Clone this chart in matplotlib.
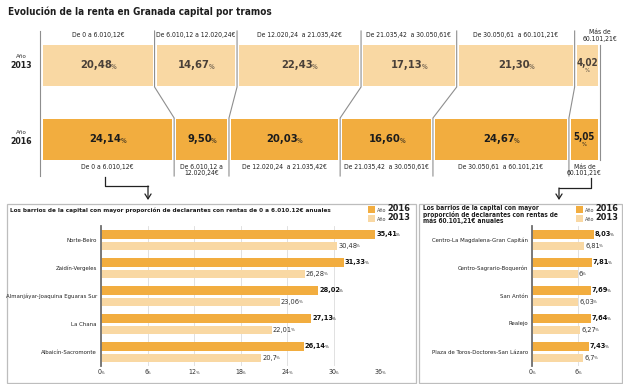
import numpy as np
import matplotlib
matplotlib.use('Agg')
import matplotlib.pyplot as plt
from matplotlib import font_manager
from matplotlib.patches import Rectangle

W, H = 623, 384

# Datos: tramos de renta (grafico superior)
tramos_arriba = ['De 0 a 6.010,12€', 'De 6.010,12 a 12.020,24€', 'De 12.020,24  a 21.035,42€',
                 'De 21.035,42  a 30.050,61€', 'De 30.050,61  a 60.101,21€', 'Más de\n60.101,21€']
tramos_abajo = ['De 0 a 6.010,12€', 'De 6.010,12 a\n12.020,24€', 'De 12.020,24  a 21.035,42€',
                'De 21.035,42  a 30.050,61€', 'De 30.050,61  a 60.101,21€', 'Más de\n60.101,21€']
renta_2013 = [20.48, 14.67, 22.43, 17.13, 21.30, 4.02]
renta_2016 = [24.14, 9.50, 20.03, 16.60, 24.67, 5.05]

# Barrios con rentas bajas
barrios_bajos = ['Norte-Beiro', 'Zaidín-Vergeles', 'Almanjáyar-Joaquina Eguaras Sur',
                 'La Chana', 'Albaicín-Sacromonte']
bajos_2016 = [35.41, 31.33, 28.02, 27.13, 26.14]
bajos_2013 = [30.48, 26.28, 23.06, 22.01, 20.7]
ticks_bajos = [0, 6, 12, 18, 24, 30, 36]

# Barrios con rentas altas
barrios_altos = ['Centro-La Magdalena-Gran Capitán', 'Centro-Sagrario-Boquerón', 'San Antón',
                 'Realejo', 'Plaza de Toros-Doctores-San Lázaro']
altos_2016 = [8.03, 7.81, 7.69, 7.64, 7.43]
altos_2013 = [6.81, 6, 6.03, 6.27, 6.7]
ticks_altos = [0, 6]

C13 = '#F9D8A3'
C16 = '#F2AD3F'
LINE = '#8e8e8e'

# fuente estrecha si existe
fonts = font_manager.fontManager.ttflist
names = {f.name for f in fonts}
if 'Liberation Sans Narrow' in names:
    FONT = dict(family='Liberation Sans Narrow')
elif any(f.name == 'DejaVu Sans' and f.stretch == 'condensed' for f in fonts):
    FONT = dict(family='DejaVu Sans', fontstretch='condensed')
else:
    FONT = dict(family='Roboto')

fig = plt.figure(figsize=(W / 100, H / 100), dpi=100)
R = fig.canvas.get_renderer()


def fit(t, target):
    w = t.get_window_extent(R).width
    t.set_fontsize(t.get_fontsize() * target / w)
    return t.get_fontsize()


def pct(ax, xy, num, size, weight='bold', color='#222', ha='left', va='center',
        xycoords='data', off=(0, 0)):
    t = ax.annotate(num, xy=xy, xycoords=xycoords, xytext=off, textcoords='offset points',
                    fontsize=size, fontweight=weight, color=color, ha=ha, va=va, **FONT)
    ax.annotate('%', xy=(1, 0), xycoords=t, xytext=(-0.9, 0.3), textcoords='offset points',
                fontsize=size * 0.6, color=color, ha='left', va='bottom', **FONT)
    return t


def px(x0, y0, x1, y1):
    return [x0 / W, 1 - y1 / H, (x1 - x0) / W, (y1 - y0) / H]


ov = fig.add_axes([0, 0, 1, 1])
ov.set_xlim(0, W)
ov.set_ylim(H, 0)
ov.axis('off')

# titulo
t = ov.text(8, 11.5, 'Evolución de la renta en Granada capital por tramos', fontsize=10,
            fontweight='bold', color='#1e1e1e', ha='left', va='center', **FONT)
fit(t, 262)

# barras apiladas por tramos
x0, gap, k = 43, 4, 5.35


def lefts(vals):
    out, x = [], x0
    for v in vals:
        out.append(x)
        x += v * k + gap
    return out


l13, l16 = lefts(renta_2013), lefts(renta_2016)
w13 = [v * k for v in renta_2013]
w16 = [v * k for v in renta_2016]
ov.barh([65.5] * 6, w13, left=l13, height=41, color=C13)
ov.barh([139.5] * 6, w16, left=l16, height=41, color=C16)

# lineas de union
ov.plot([40, 40], [31, 176], color=LINE, lw=0.8)
ov.plot([600, 600], [45, 160], color=LINE, lw=0.8)
for i in range(1, 6):
    b13 = l13[i] - gap / 2
    b16 = l16[i] - gap / 2
    ov.plot([b13, b13, b16, b16], [31, 87, 118, 176], color=LINE, lw=0.8)

# valores dentro de las barras
for vals, ls, ws, yc, col in [(renta_2013, l13, w13, 65.5, '#4a4038'),
                              (renta_2016, l16, w16, 139.5, '#1c1c1c')]:
    for v, l, w in zip(vals, ls, ws):
        s = f'{v:.2f}'.replace('.', ',')
        cx = l + w / 2
        if w < 30:
            ov.text(cx, yc - 3, s, fontsize=7, fontweight='bold', color=col,
                    ha='center', va='center', **FONT)
            ov.text(cx, yc + 5, '%', fontsize=4.2, color=col, ha='center', va='center', **FONT)
        else:
            pct(ov, (cx - 2, yc), s, 8, color=col, ha='center')

# etiquetas de tramos
lab = ov.text(0, 0, tramos_arriba[1], fontsize=6, **FONT)
fs_lab = fit(lab, 80)
lab.remove()
for s, l, w in zip(tramos_arriba, l13, w13):
    cx = l + w / 2
    if '\n' in s:
        cx = 600
    ov.text(cx, 35.5, s, fontsize=fs_lab, color='#222', ha='center', va='center',
            linespacing=1.0, **FONT)
for s, l, w in zip(tramos_abajo, l16, w16):
    ov.text(l + w / 2, 164, s, fontsize=fs_lab, color='#222', ha='center', va='top',
            linespacing=1.0, **FONT)

# etiquetas de año
for yy, yr in [(57, '2013'), (133, '2016')]:
    ov.text(21, yy, 'Año', fontsize=4.5, color='#333', ha='center', va='center', **FONT)
    t = ov.text(21, yy + 9, yr, fontsize=9, fontweight='bold', color='#1e1e1e',
                ha='center', va='center', **FONT)
    fit(t, 22)

# flechas
ov.plot([105, 105, 148], [177, 186, 186], color='#222', lw=0.9)
ov.plot([591, 591, 559], [178, 188, 188], color='#222', lw=0.9)
for x, y in [(148, 186), (559, 188)]:
    ov.annotate('', xy=(x, 200), xytext=(x, y),
                arrowprops=dict(arrowstyle='->,head_length=0.35,head_width=0.22',
                                color='#222', lw=0.9, shrinkA=0, shrinkB=0))

# recuadros de los paneles
ov.add_patch(Rectangle((7, 204), 409, 179, fill=False, ec='#bdbdbd', lw=0.9))
ov.add_patch(Rectangle((419, 204), 203, 179, fill=False, ec='#bdbdbd', lw=0.9))

# titulos de paneles
t = ov.text(10, 210, 'Los barrios de la capital con mayor proporción de declarantes con rentas '
            'de 0 a 6.010.12€ anuales', fontsize=6, fontweight='bold', color='#1e1e1e',
            ha='left', va='center', **FONT)
fit(t, 322)
t = ov.text(423, 205, 'Los barrios de la capital con mayor\nproporción de declarantes con rentas de\n'
            'más 60.101,21€ anuales', fontsize=6, fontweight='bold', color='#1e1e1e',
            ha='left', va='top', linespacing=0.92, **FONT)
fit(t, 136)

# leyendas
for lx in [368, 576]:
    for yy, col, yr in [(209.5, C16, '2016'), (218.5, C13, '2013')]:
        ov.add_patch(Rectangle((lx, yy - 3.5), 7, 7, color=col, lw=0))
        a = ov.text(lx + 9, yy + 2.5, 'Año', fontsize=4, color='#444', ha='left',
                    va='baseline', **FONT)
        ov.annotate(yr, xy=(1, 0), xycoords=a, xytext=(0.6, 0), textcoords='offset points',
                    fontsize=6.6, fontweight='bold', color='#1e1e1e', ha='left', va='bottom',
                    **FONT)

# tamaños comunes de los paneles
tmp = ov.text(0, 0, barrios_bajos[2], fontsize=5, **FONT)
fs_cat = fit(tmp, 92)
tmp.remove()
tmp = ov.text(0, 0, '35,41', fontsize=6, fontweight='bold', **FONT)
fs_val = fit(tmp, 21)
tmp.remove()


def panel(rect, cats, v16, v13, xmax, ticks):
    ax = fig.add_axes(rect)
    ax.set_facecolor('none')
    y = np.arange(len(cats))
    ax.barh(y - 0.205, v16, height=0.33, color=C16, zorder=2)
    ax.barh(y + 0.205, v13, height=0.30, color=C13, zorder=2)
    ax.set_xlim(0, xmax)
    ax.set_ylim(len(cats) - 0.5, -0.5)
    ax.set_xticks(ticks)
    ax.set_xticklabels([])
    ax.set_yticks([])
    ax.grid(axis='x', color='#dcdcdc', lw=0.6)
    ax.set_axisbelow(True)
    ax.tick_params(length=0)
    for s in ['top', 'right', 'bottom']:
        ax.spines[s].set_visible(False)
    ax.spines['left'].set_color('#707070')
    ax.spines['left'].set_linewidth(1.3)
    ax.spines['left'].set_zorder(3)
    for yi, c in zip(y, cats):
        ax.annotate(c, xy=(0, yi), xycoords=('axes fraction', 'data'), xytext=(-3, 0),
                    textcoords='offset points', fontsize=fs_cat, color='#222',
                    ha='right', va='center', **FONT)
    for yi, a, b in zip(y, v16, v13):
        pct(ax, (a, yi - 0.205), f'{a:g}'.replace('.', ','), fs_val, color='#111', off=(0.7, 0))
        pct(ax, (b, yi + 0.205), f'{b:g}'.replace('.', ','), fs_val, weight='normal',
            color='#333', off=(0.7, 0))
    for tk in ticks:
        pct(ax, (tk, -0.045), f'{tk}', 5, weight='normal', color='#333', ha='center',
            xycoords=('data', 'axes fraction'), off=(-1, 0))
    return ax


panel(px(101, 226, 380, 366), barrios_bajos, bajos_2016, bajos_2013, 36, ticks_bajos)
panel(px(532, 226, 601, 366), barrios_altos, altos_2016, altos_2013, 9, ticks_altos)

fig.savefig('out.png', dpi=100)
